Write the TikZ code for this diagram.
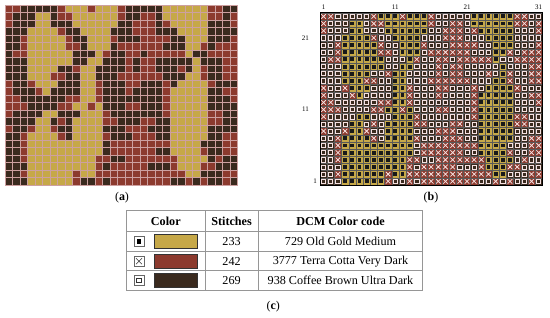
\documentclass[tikz,border=0pt]{standalone}
\usepackage{fontspec}
\setmainfont{Liberation Serif}
\definecolor{c0}{RGB}{198,168,72}
\definecolor{c1}{RGB}{140,58,46}
\definecolor{c2}{RGB}{58,42,30}
\definecolor{symw}{RGB}{245,225,225}
\definecolor{agridc}{RGB}{205,160,160}
\definecolor{tlinec}{RGB}{150,150,150}
\tikzset{
  agridline/.style={draw=agridc, line width=0.5bp},
  bgridline/.style={draw=black!65, line width=0.25bp},
  axlbl/.style={font=\fontsize{7}{8}\selectfont, inner sep=0pt},
  caplbl/.style={font=\fontsize{12}{14}\selectfont, inner sep=0pt},
  tabline/.style={draw=tlinec, line width=0.7bp},
  tabtext/.style={font=\fontsize{12.2}{14}\selectfont, inner sep=0pt},
  tabhead/.style={font=\fontsize{12.2}{14}\selectfont\bfseries, inner sep=0pt},
  iconbox/.style={draw=black!60, line width=0.6bp},
  swatch/.style={draw=black!80, line width=0.6bp},
}
\begin{document}
\begin{tikzpicture}[x=1bp,y=-1bp]
\useasboundingbox (0,0) rectangle (550,317);
\def\pat{%
{1,1,2,2,2,2,2,1,0,0,0,1,0,0,0,1,2,2,2,2,2,0,0,0,0,0,0,1,1,2,2},%
{1,2,2,2,0,0,2,1,1,0,0,0,0,0,0,1,2,2,1,1,2,0,0,0,0,0,0,1,1,2,1},%
{1,2,2,2,0,0,2,2,2,0,0,0,0,0,0,2,2,1,1,1,2,1,0,0,0,0,0,2,2,2,1},%
{2,2,2,0,0,0,0,1,2,2,0,0,0,0,2,2,2,1,1,1,2,2,2,0,0,0,0,2,2,2,2},%
{2,2,1,0,0,0,0,0,1,2,2,0,0,0,1,2,2,2,1,1,1,1,2,2,0,0,0,2,2,2,1},%
{2,2,1,0,0,0,0,0,1,1,2,0,0,0,2,1,1,1,1,1,1,2,2,2,0,0,1,2,1,1,1},%
{2,1,1,0,0,0,0,0,0,2,2,2,0,1,2,2,1,1,2,1,1,1,1,1,0,2,2,1,1,1,1},%
{2,2,2,0,0,0,0,0,0,2,2,0,0,2,2,2,1,2,1,1,2,2,2,2,2,0,2,2,2,1,1},%
{2,2,2,0,0,0,0,2,2,1,0,0,2,2,2,2,1,2,1,1,2,2,2,1,2,0,1,2,2,1,1},%
{2,2,2,0,0,0,1,1,2,2,0,0,2,2,2,1,1,1,1,1,1,2,2,2,0,0,1,2,2,1,1},%
{1,2,2,1,0,0,0,2,2,2,0,0,1,2,2,2,1,1,2,2,2,1,2,0,0,0,0,1,2,2,2},%
{1,2,2,2,1,0,2,2,2,2,0,0,1,2,2,2,1,2,2,2,2,1,0,0,0,0,0,2,2,1,1},%
{1,1,2,2,2,2,2,2,1,1,0,0,1,2,2,2,2,2,2,2,2,1,0,0,0,0,0,2,2,2,1},%
{1,1,1,2,2,2,2,1,1,0,0,1,0,2,2,2,1,1,2,2,2,1,0,0,0,0,0,2,2,2,2},%
{1,2,2,2,2,0,0,2,2,2,0,0,0,1,2,2,2,2,2,2,2,1,0,0,0,0,0,1,1,2,2},%
{2,2,2,2,0,0,2,1,2,0,0,0,0,1,1,2,2,2,1,1,2,2,0,0,0,0,0,1,1,2,2},%
{1,2,2,1,0,0,1,2,2,0,0,0,0,2,2,2,1,1,1,2,2,2,0,0,0,0,0,2,2,2,2},%
{2,2,1,0,0,0,0,1,2,0,0,0,0,1,2,2,2,1,1,1,2,2,0,0,0,0,0,2,2,1,1},%
{2,2,1,0,0,0,0,0,0,0,0,0,0,2,1,1,1,1,1,1,1,1,0,0,0,0,2,2,2,1,1},%
{2,2,1,0,0,0,0,0,0,0,0,0,0,2,1,1,1,1,1,1,2,2,0,0,0,0,1,2,2,1,1},%
{2,2,1,0,0,0,0,0,0,0,0,0,1,1,2,2,1,1,1,1,1,1,1,0,0,0,0,2,1,2,2},%
{2,2,2,0,0,0,0,0,0,0,0,0,1,2,1,1,1,1,1,2,2,2,1,0,0,0,1,1,2,2,2},%
{2,2,1,0,0,0,0,0,0,1,0,0,1,1,1,1,1,1,1,1,1,1,1,1,0,0,2,2,2,1,1},%
{2,2,2,0,0,0,0,0,0,1,2,2,1,2,1,1,1,1,1,1,1,1,2,2,1,2,1,2,2,1,2}}
% ---------- (a) colour grid ----------
\foreach \row [count=\r] in \pat {
  \foreach \v [count=\c] in \row {
    \fill[c\v] ({5+(\c-1)*7.5},{5+(\r-1)*7.5}) rectangle ++(7.5,7.5);
  }
}
\foreach \i in {0,...,31} \draw[agridline] ({5+\i*7.5},5) -- ({5+\i*7.5},185);
\foreach \j in {0,...,24} \draw[agridline] (5,{5+\j*7.5}) -- (237.5,{5+\j*7.5});
% ---------- (b) symbol chart ----------
\foreach \row [count=\r] in \pat {
  \foreach \v [count=\c] in \row {
    \pgfmathsetmacro\xx{320+(\c-1)*7.17}
    \pgfmathsetmacro\yy{12.8+(\r-1)*7.17}
    \fill[c\v] (\xx,\yy) rectangle ++(7.17,7.17);
    \ifcase\v\relax
      \fill[black!90] (\xx+1.65,\yy+1.65) rectangle ++(3.87,3.87);
    \or
      \draw[symw,line width=0.75bp] (\xx+1.3,\yy+1.3) -- ++(4.57,4.57) (\xx+1.3,\yy+5.87) -- ++(4.57,-4.57);
    \or
      \draw[symw,line width=0.7bp] (\xx+1.5,\yy+1.5) rectangle ++(4.17,4.17);
    \fi
  }
}
\foreach \i in {0,...,31} \draw[bgridline] ({320+\i*7.17},12.8) -- ({320+\i*7.17},184.9);
\foreach \j in {0,...,24} \draw[bgridline] (320,{12.8+\j*7.17}) -- (542.3,{12.8+\j*7.17});
\draw[black, line width=0.7bp] (320,12.8) rectangle (542.3,184.9);
% axis labels
\node[axlbl] (t1)  at (323.6,7.5) {1};
\node[axlbl] (t11) at (395.3,7.5) {11};
\node[axlbl] (t21) at (467.0,7.5) {21};
\node[axlbl] (t31) at (538.7,7.5) {31};
\node[axlbl, anchor=east] (l21) at (309,37.9) {21};
\node[axlbl, anchor=east] (l11) at (309,109.6) {11};
\node[axlbl, anchor=east] (l1)  at (317,181.3) {1};
% captions
\node[caplbl] (capa) at (122,197.5) {(\textbf{a})};
\node[caplbl] (capb) at (431,197.5) {(\textbf{b})};
\node[caplbl] (capc) at (273.3,306.7) {(\textbf{c})};
% ---------- (c) table ----------
\draw[tabline] (126.7,210.7) rectangle (422.7,290);
\draw[tabline] (126.7,231) -- (422.7,231);
\draw[tabline] (126.7,251.7) -- (422.7,251.7);
\draw[tabline] (126.7,270.7) -- (422.7,270.7);
\draw[tabline] (205,210.7) -- (205,290);
\draw[tabline] (258.3,210.7) -- (258.3,290);
\node[tabhead] (hcol) at (165.8,221) {Color};
\node[tabhead] (hst)  at (231.6,221) {Stitches};
\node[tabhead] (hdcm) at (340.5,221) {DCM Color code};
% icons
\draw[iconbox] (134,236.3) rectangle (144,246.3);
\fill[black] (136.6,238.9) rectangle (141.4,243.7);
\draw[iconbox] (134,256.2) rectangle (144,266.2);
\draw[black!80, line width=0.6bp] (136,258.2) -- (142,264.2) (136,264.2) -- (142,258.2);
\draw[iconbox] (134,275.3) rectangle (144,285.3);
\draw[black!80, line width=0.6bp] (136.6,277.9) rectangle (141.4,282.7);
% swatches
\filldraw[swatch, fill=c0] (154.3,234.6) rectangle (197.3,248);
\filldraw[swatch, fill=c1] (154.3,254.5) rectangle (197.3,267.9);
\filldraw[swatch, fill=c2] (154.3,273.6) rectangle (197.3,287);
% values
\node[tabtext] (s1) at (231.6,241.3) {233};
\node[tabtext] (s2) at (231.6,261.2) {242};
\node[tabtext] (s3) at (231.6,280.3) {269};
\node[tabtext] (d1) at (340.5,241.3) {729 Old Gold Medium};
\node[tabtext] (d2) at (340.5,261.2) {3777 Terra Cotta Very Dark};
\node[tabtext] (d3) at (340.5,280.3) {938 Coffee Brown Ultra Dark};
\end{tikzpicture}
\end{document}
